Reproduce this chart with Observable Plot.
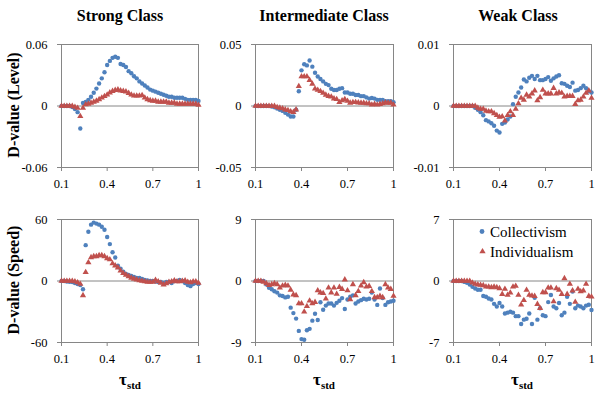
<!DOCTYPE html>
<html><head><meta charset="utf-8">
<script src="https://cdn.jsdelivr.net/npm/d3@7"></script>
<script src="https://cdn.jsdelivr.net/npm/@observablehq/plot@0.6"></script>
<style>
body{margin:0;background:#fff;}
#root{position:relative;width:600px;height:400px;overflow:hidden;font-family:"Liberation Serif","Times New Roman",serif;color:#000;}
.abs{position:absolute;line-height:1;white-space:nowrap;}
.title{font-weight:bold;font-size:16px;transform:translate(-50%,-50%);}
.ylab{font-weight:bold;font-size:16px;transform:translate(-50%,-50%) rotate(-90deg);}
.xlab{font-weight:bold;font-size:17px;transform:translate(-50%,-50%);}
.xlab sub{font-size:11px;vertical-align:-4px;}
.panel{position:absolute;}
.panel text{font-family:"Liberation Serif","Times New Roman",serif !important;font-size:12.5px !important;}
</style></head><body><div id="root"></div><script>
// ---- data ----
const tau = [0.1,0.1176,0.1353,0.1529,0.1706,0.1882,0.2059,0.2235,0.2412,0.2588,0.2765,0.2941,0.3118,0.3294,0.3471,0.3647,0.3824,0.4,0.4176,0.4353,0.4529,0.4706,0.4882,0.5059,0.5235,0.5412,0.5588,0.5765,0.5941,0.6118,0.6294,0.6471,0.6647,0.6824,0.7,0.7176,0.7353,0.7529,0.7706,0.7882,0.8059,0.8235,0.8412,0.8588,0.8765,0.8941,0.9118,0.9294,0.9471,0.9647,0.9824,1.0];

const strongLevelC = [0,0,0,0,-0.001,-0.003,-0.006,-0.022,0.003,0.004,0.006,0.009,0.013,0.017,0.022,0.027,0.033,0.040,0.044,0.047,0.048,0.047,0.041,0.040,0.038,0.034,0.032,0.029,0.027,0.024,0.022,0.020,0.018,0.016,0.015,0.014,0.013,0.012,0.011,0.010,0.009,0.009,0.008,0.008,0.008,0.008,0.007,0.006,0.006,0.006,0.006,0.005];
const strongLevelI = [0,0,0,0,0,-0.001,-0.002,-0.010,-0.002,0.0015,0.002,0.003,0.004,0.005,0.0065,0.008,0.0095,0.011,0.013,0.0145,0.0155,0.016,0.015,0.0145,0.014,0.0125,0.011,0.010,0.010,0.010,0.0105,0.008,0.0065,0.0055,0.005,0.005,0.004,0.004,0.004,0.004,0.003,0.003,0.003,0.002,0.002,0.002,0.002,0.002,0.002,0.002,0.002,0.001];
const interLevelC = [0,0,0,0,0,0,-0.0005,-0.001,-0.002,-0.003,-0.004,-0.0055,-0.007,-0.0085,-0.0085,-0.003,0.012,0.029,0.034,0.033,0.037,0.032,0.027,0.024,0.022,0.020,0.018,0.017,0.014,0.013,0.013,0.014,0.0145,0.011,0.011,0.010,0.010,0.009,0.009,0.008,0.008,0.007,0.006,0.0065,0.006,0.005,0.005,0.005,0.004,0.004,0.004,0.003];
const interLevelI = [0,0,0,0,0,0,0,0,-0.001,-0.0015,-0.002,-0.003,-0.0035,-0.0045,-0.005,-0.003,0.016,0.024,0.024,0.024,0.021,0.018,0.014,0.013,0.012,0.0105,0.009,0.008,0.0075,0.006,0.0055,0.003,0.0045,0.0055,0.004,0.0025,0.003,0.003,0.0027,0.0025,0.0025,0.002,0.002,0.001,0.0015,0.001,0.0015,0.002,0.0027,0.0025,0.0025,0.001];
const weakLevelC = [0,0,0,0,0,0,0,0,-0.0003,-0.0006,-0.001,-0.0015,-0.0023,-0.0025,-0.0028,-0.0032,-0.004,-0.0043,-0.0029,-0.0027,-0.0022,-0.0017,0.0003,0.0015,0.0022,0.003,0.0043,0.004,0.0046,0.0049,0.0044,0.0049,0.0042,0.0042,0.0044,0.0047,0.0041,0.0045,0.0048,0.005,0.0037,0.0036,0.0033,0.0031,0.0038,0.0025,0.0026,0.0029,0.0033,0.0029,0.0024,0.0022];
const weakLevelI = [0,0,0,0,0,0,0,0,0,-0.0003,-0.0005,-0.0005,-0.0008,-0.0009,-0.0009,-0.0012,-0.0015,-0.0018,-0.0017,-0.0024,-0.0015,-0.0009,-0.0015,-0.0005,0.0004,0.0013,0.0010,0.0018,0.0015,0.0020,0.0025,0.0009,0.0014,0.0026,0.0020,0.0020,0.0020,0.0029,0.0020,0.0022,0.0021,0.0015,0.0016,0.0016,0.0016,0.0003,0.0009,0.0010,0.0015,0.0021,0.0025,0.0013];
const strongSpeedC = [0,0,-0.5,-0.8,-1,-2,-3,-4,-8,35,48,55,57,56,55,53,50,43,36,28,23,15,12,9,7,6,5,4,3,3,2,1,0.5,0,0,-0.5,-1,-1,-2,-1,-1,-2,0,0,1,0,-2,-4,-5,-3,-2,-3];
const strongSpeedI = [0,0,0,0,0,-0.5,-1.5,-3,-14,8.5,18,23,24,24,25,25,24,22,21,17,15,13,10,7.5,6,4.5,3,2,1.3,0.5,0,-0.5,-1,-1,-1,1,-0.5,-2,-3.5,-2.5,-1,-0.5,0.5,-0.5,-0.5,0,0.5,-1,-1.5,-0.5,-0.5,-2];
const interSpeedC = [0,0,0,0,-0.5,-1.0,-1.2,-1.5,-1.7,-2.1,-2.2,-2.4,-2.3,-3.9,-4.7,-5.5,-7.3,-8.5,-8.6,-7.2,-7.0,-5.8,-4.8,-5.7,-3.1,-4.2,-3.6,-3.3,-3.3,-3.6,-3.2,-2.9,-2.5,-4.1,-2.7,-2.3,-2.1,-3.3,-3.0,-2.8,-2.6,-2.7,-2.6,-1.7,-2.7,-3.5,-1.1,-2.5,-3.5,-3.1,-3.0,-2.9];
const interSpeedI = [0,0,0,-0.15,-0.35,-0.6,-0.5,-0.35,-0.5,-1.0,-0.7,-0.6,-0.7,-1.3,-2.0,-2.1,-3.3,-3.3,-4.5,-3.7,-2.9,-3.3,-3.1,-1.4,-1.7,-1.8,-2.6,-1.0,-1.7,-1.0,-1.9,-0.9,-1.2,0.2,-1.4,-2.7,-0.5,-2.1,-1.5,-0.7,-0.2,-0.85,-0.75,-1.5,-2.4,-2.4,-2.2,-2.4,-0.5,-1.0,-1.2,-2.2];
const weakSpeedC = [0,0,0,0,-0.1,-0.2,-0.4,-0.65,-0.85,-1.0,-1.0,-1.7,-1.8,-2.0,-2.1,-2.6,-2.9,-2.5,-2.9,-3.7,-3.6,-3.5,-3.6,-4.0,-4.0,-4.9,-4.4,-4.3,-3.7,-4.9,-1.9,-4.4,-3.1,-3.9,-4.0,-2.4,-1.6,-2.9,-3.1,-2.5,-3.9,-3.6,-1.8,-2.6,-1.2,-3.1,-2.8,-2.9,-3.1,-2.8,-2.7,-3.3];
const weakSpeedI = [0,0,0,0,0,0,0,-0.2,-0.34,-0.42,-0.46,-0.5,-0.65,-0.65,-0.73,-0.65,-0.73,-0.84,-1.49,-0.92,-1.6,-1.34,-0.65,-0.57,-1.6,-2.7,-2.2,-1.03,-1.6,-1.68,-1.72,-2.64,-3.1,-1.3,-1.3,-0.77,-0.77,-2.33,-0.84,-1.03,-1.49,0.3,-1.49,-0.34,-1.1,-2.4,-0.92,-1.19,-1.1,-0.34,-1.72,-1.8];

const xTicks = [0.1, 0.4, 0.7, 1];
const xTickLabels = ["0.1", "0.4", "0.7", "1"];
const classNames = ["Strong Class", "Intermediate Class", "Weak Class"];
const rowLabels = ["D-value (Level)", "D-value (Speed)"];
const seriesNames = ["Collectivism", "Individualism"];
const levelTicks = [[-0.06, 0, 0.06], [-0.05, 0, 0.05], [-0.01, 0, 0.01]];
const levelTickLabels = [["-0.06", "0", "0.06"], ["-0.05", "0", "0.05"], ["-0.01", "0", "0.01"]];
const speedTicks = [[-60, 0, 60], [-9, 0, 9], [-7, 0, 7]];
const speedTickLabels = [["-60", "0", "60"], ["-9", "0", "9"], ["-7", "0", "7"]];

// ---- layout ----
const BLUE = "#4F81BD", RED = "#C0504D", GRID = "#868686";
const colLeft = [61, 255, 453], colW = [137, 138, 138];
const rowTop = [44, 219], rowH = 123;
const mL = 50, mR = 8, mT = 8, mB = 30;

const series = [
  [strongLevelC, strongLevelI, interLevelC, interLevelI, weakLevelC, weakLevelI],
  [strongSpeedC, strongSpeedI, interSpeedC, interSpeedI, weakSpeedC, weakSpeedI]
];
const root = document.getElementById("root");

for (let r = 0; r < 2; r++) {
  for (let c = 0; c < 3; c++) {
    const cs = series[r][2 * c], is = series[r][2 * c + 1];
    const data = tau.map((x, k) => ({x, c: cs[k], i: is[k]}));
    const ticks = r === 0 ? levelTicks[c] : speedTicks[c];
    const labels = r === 0 ? levelTickLabels[c] : speedTickLabels[c];
    const pw = colW[c], ph = rowH;
    const chart = Plot.plot({
      width: mL + pw + mR, height: mT + ph + mB,
      marginLeft: mL, marginRight: mR, marginTop: mT, marginBottom: mB,
      style: {fontFamily: "Liberation Serif, serif", fontSize: "12.5px", color: "#000", background: "transparent", overflow: "visible"},
      x: {domain: [0.1, 1]},
      y: {domain: [ticks[0], ticks[2]]},
      marks: [
        Plot.frame({stroke: GRID}),
        Plot.ruleY([0], {stroke: GRID}),
        Plot.axisX(xTicks, {tickSize: 4, tickPadding: 8, stroke: GRID, fill: "#000", label: null, fontFamily: "Liberation Serif", tickFormat: d => xTickLabels[xTicks.indexOf(d)]}),
        Plot.axisY(ticks, {tickSize: 4, tickPadding: 10, stroke: GRID, fill: "#000", label: null, fontFamily: "Liberation Serif", tickFormat: d => labels[ticks.indexOf(d)]}),
        Plot.dot(data, {x: "x", y: "c", r: 2.2, fill: BLUE}),
        Plot.dot(data, {x: "x", y: "i", r: 2.3, symbol: "triangle", fill: RED})
      ]
    });
    chart.classList.add("panel");
    chart.style.left = (colLeft[c] - mL) + "px";
    chart.style.top = (rowTop[r] - mT) + "px";
    root.appendChild(chart);
  }
}

function addText(cls, html, x, y) {
  const d = document.createElement("div");
  d.className = "abs " + cls;
  d.innerHTML = html;
  d.style.left = x + "px";
  d.style.top = y + "px";
  root.appendChild(d);
}
const titleX = [120, 324, 518];
classNames.forEach((t, c) => addText("title", t, titleX[c], 16));
addText("ylab", rowLabels[0], 14, 105);
addText("ylab", rowLabels[1], 14, 280);
const xlabX = [130, 324, 522];
xlabX.forEach(x => addText("xlab", "τ<sub>std</sub>", x, 381));

// legend
const leg = d3.create("svg").attr("width", 130).attr("height", 44)
  .style("position", "absolute").style("left", "475px").style("top", "222px")
  .style("font-family", "'Liberation Serif','Times New Roman',serif").style("font-size", "15px");
leg.append("circle").attr("cx", 7).attr("cy", 9.5).attr("r", 2.4).attr("fill", BLUE);
leg.append("path").attr("d", d3.symbol(d3.symbolTriangle, 17)()).attr("transform", "translate(7.5,29.5)").attr("fill", RED);
leg.append("text").attr("x", 15).attr("y", 14.5).text(seriesNames[0]);
leg.append("text").attr("x", 15).attr("y", 34.5).text(seriesNames[1]);
root.appendChild(leg.node());
</script></body></html>
